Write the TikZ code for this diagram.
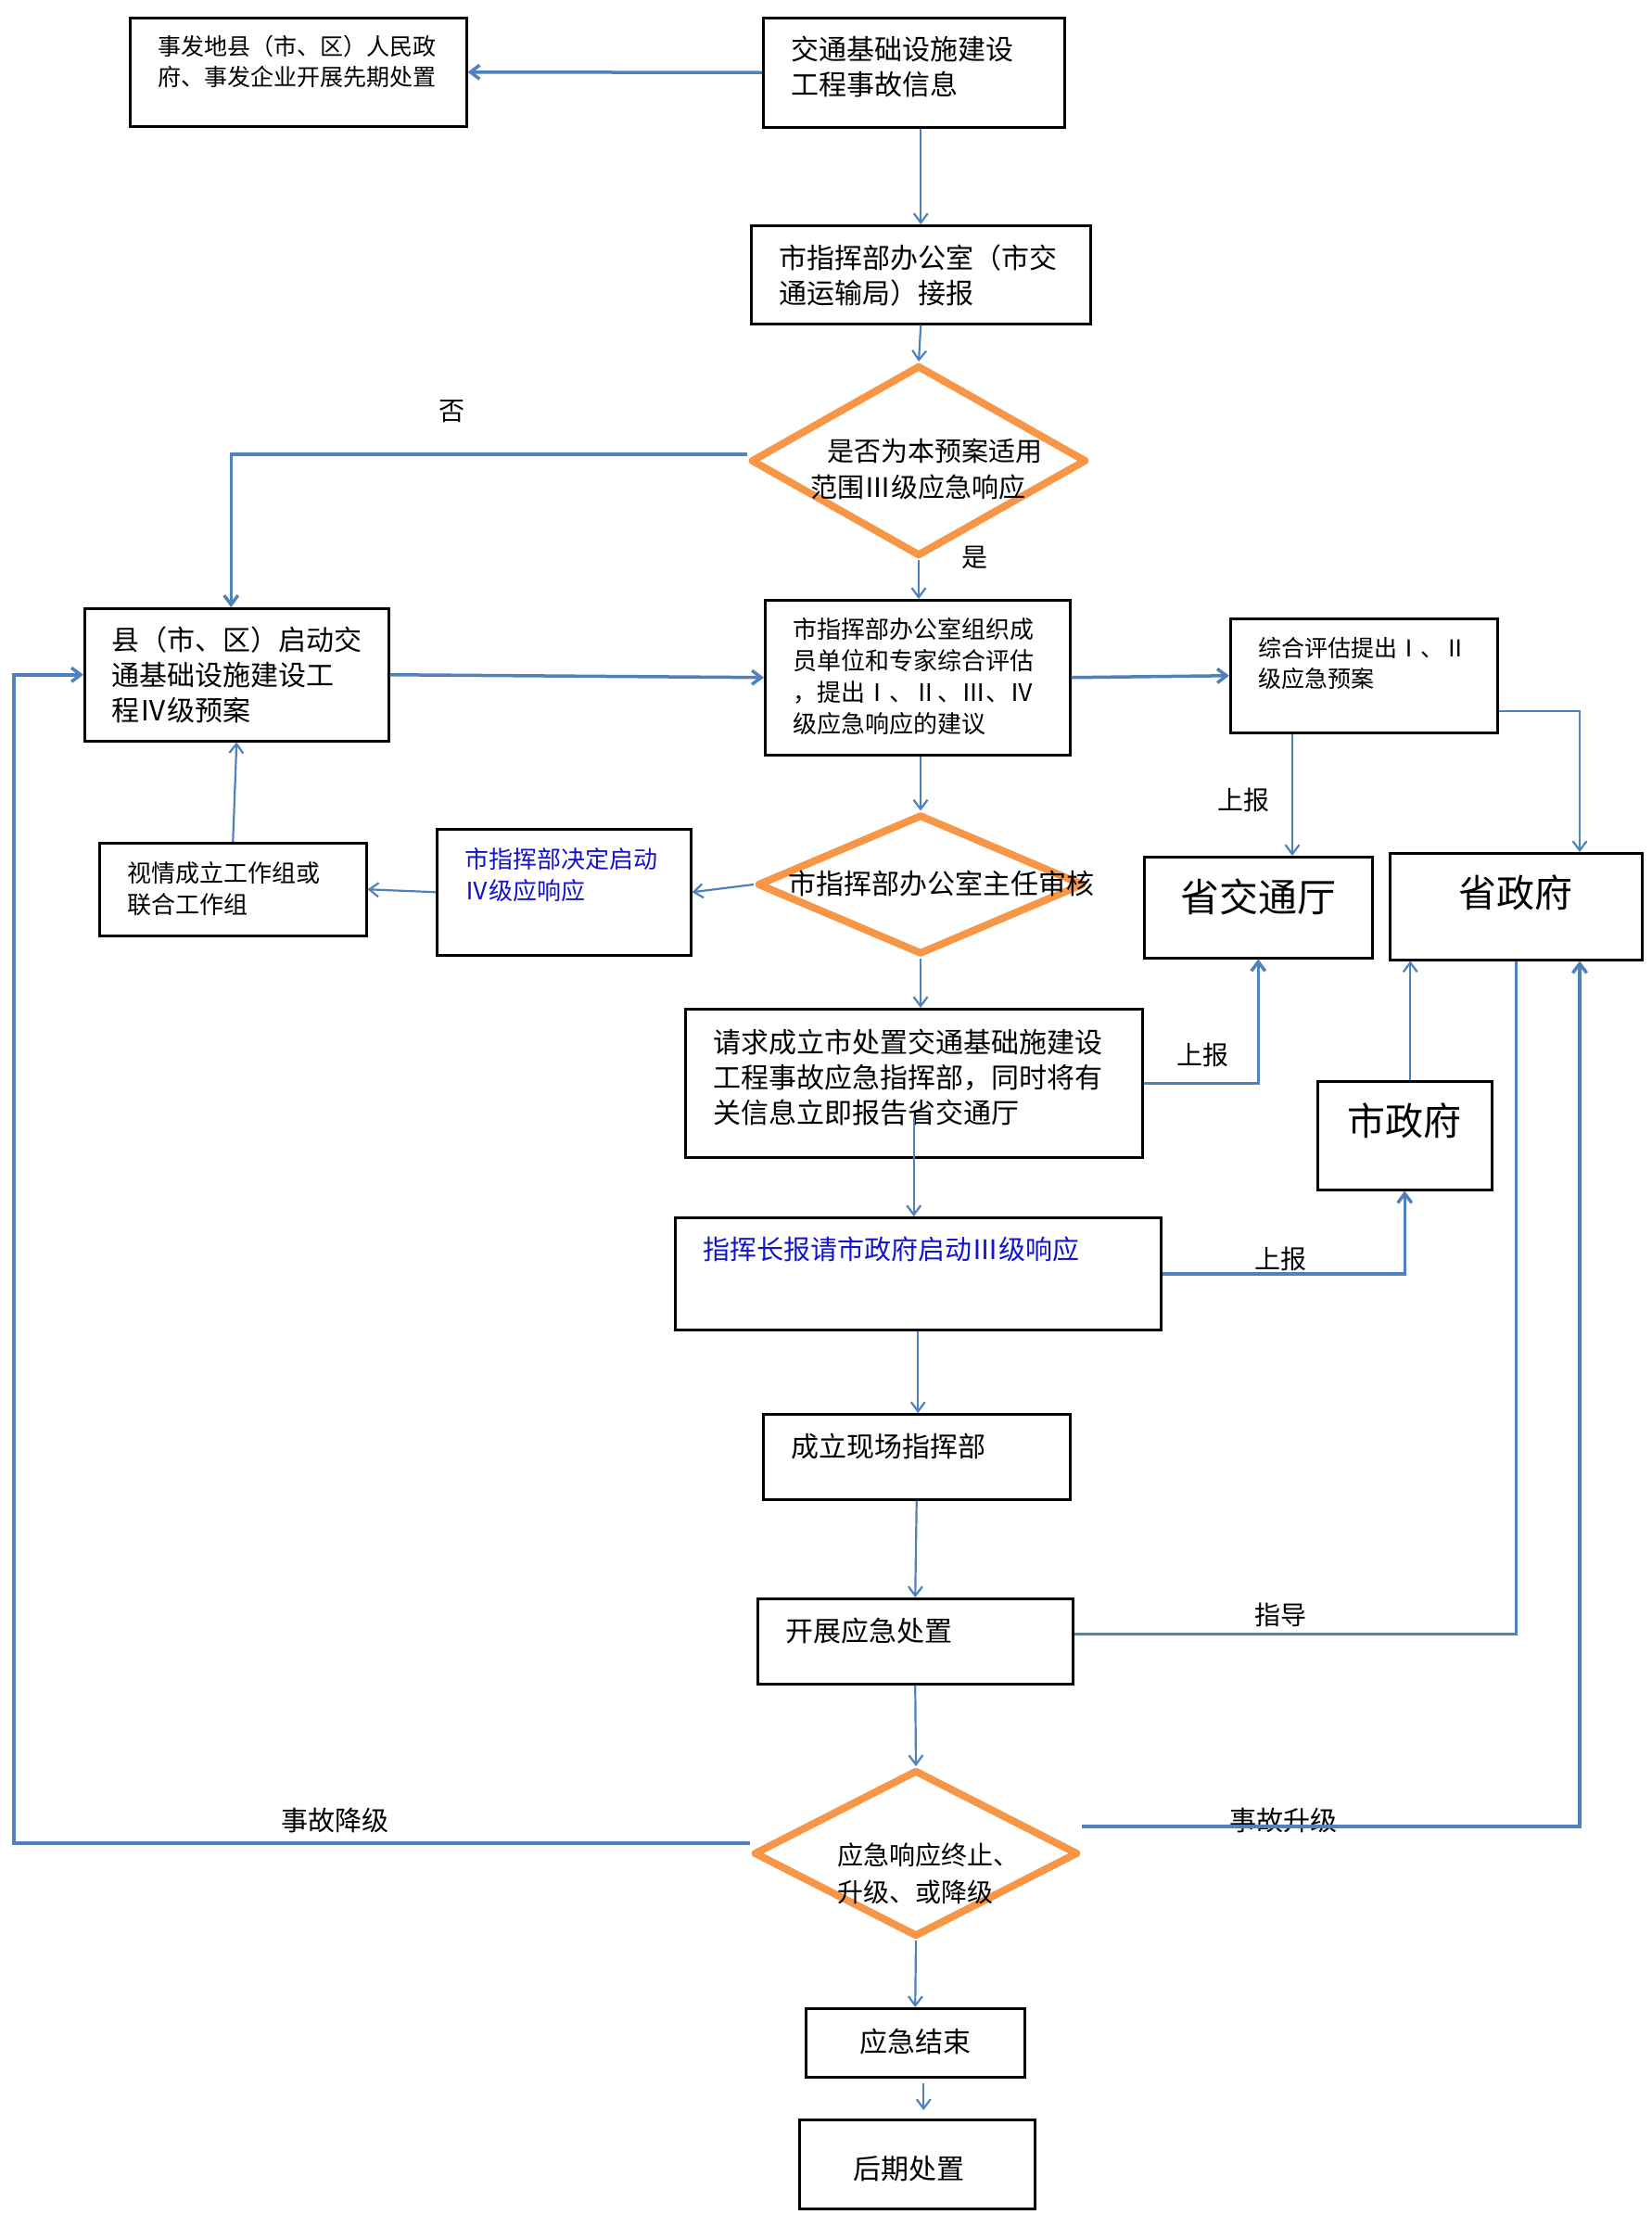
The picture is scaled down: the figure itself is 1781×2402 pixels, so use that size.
\documentclass[tikz,border=0pt]{standalone}
\usepackage{fontspec}
\setmainfont{Noto Sans CJK SC}
\usetikzlibrary{shapes.geometric}
\usetikzlibrary{arrows.meta}
\definecolor{linkblue}{HTML}{4F81BD}
\definecolor{checkorange}{HTML}{F79646}
\definecolor{noteblue}{HTML}{1414CC}

\begin{document}
\begin{tikzpicture}[
			x=1pt, y=-1pt,
			box/.style={draw, line width=2.5pt, anchor=north west, inner xsep=30pt, inner ysep=0pt, align=left},
			midbox/.style={box, inner xsep=10pt, align=center},
			check/.style={diamond, draw=checkorange, line width=8pt, line join=round, inner sep=0pt},
			link/.style={draw=linkblue, line width=2.2pt, -{Straight Barb[length=10pt,width=15pt]}},
			wire/.style={draw=linkblue, line width=2.2pt},
			wide/.style={line width=3.5pt},
			say/.style={inner sep=0pt},
			t25/.style={font=\fontsize{25}{33}\selectfont},
			t26/.style={font=\fontsize{26}{34}\selectfont},
			t28/.style={font=\fontsize{28}{40}\selectfont},
			t29/.style={font=\fontsize{29}{39}\selectfont},
			t30/.style={font=\fontsize{30}{38}\selectfont},
			t41/.style={font=\fontsize{41}{48}\selectfont},
			t42/.style={font=\fontsize{42}{48}\selectfont},
			]
			\useasboundingbox[fill=white] (0,0) rectangle (1781,2402);

			\node[box, t25, text width=303pt, text height=40.5pt, text depth=76.5pt] (a) at (139,18) {事发地县（市、区）人民政\\府、事发企业开展先期处置};
			\node[box, t30, text width=265pt, text height=45.4pt, text depth=72.6pt] (b) at (822,18) {交通基础设施建设\\工程事故信息};
			\node[box, t30, text width=306pt, text height=46.4pt, text depth=59.6pt] (c) at (809,242) {市指挥部办公室（市交\\通运输局）接报};
			\node[check, minimum width=362pt, minimum height=206pt] (d1) at (991,497) {};
			\node[say, t29, anchor=west, align=left] (d1t) at (874,505.5) {\hspace*{18pt}是否为本预案适用\\范围Ⅲ级应急响应};
			\node[box, t30, text width=270pt, text height=45.4pt, text depth=97.6pt, inner xsep=29pt] (e) at (90,655) {县（市、区）启动交\\通基础设施建设工\\程Ⅳ级预案};
			\node[box, t26, text width=269pt, text height=40.9pt, text depth=126.1pt] (f) at (824,646) {市指挥部办公室组织成\\员单位和专家综合评估\\，提出Ⅰ、Ⅱ、Ⅲ、Ⅳ\\级应急响应的建议};
			\node[box, t25, text width=228pt, text height=41.5pt, text depth=81.5pt] (g) at (1326,666) {综合评估提出Ⅰ、Ⅱ\\级应急预案};
			\node[check, minimum width=352pt, minimum height=151pt] (d2) at (993,954) {};
			\node[say, t30, anchor=west] (d2t) at (850,953) {市指挥部办公室主任审核};
			\node[box, t26, text width=214pt, text height=41.9pt, text depth=94.1pt, text=noteblue] (h) at (470,893) {市指挥部决定启动\\Ⅳ级应响应};
			\node[box, t26, text width=228pt, text height=41.9pt, text depth=58.1pt] (i) at (106,908) {视情成立工作组或\\联合工作组};
			\node[midbox, t42, text width=226pt, text height=59pt, text depth=50pt] (j) at (1233,923) {省交通厅};
			\node[midbox, t41, text width=252pt, text height=58.6pt, text depth=56.4pt] (k) at (1498,919) {省政府};
			\node[box, t30, text width=433pt, text height=46.9pt, text depth=113.1pt] (l) at (738,1087) {请求成立市处置交通基础施建设\\工程事故应急指挥部，同时将有\\关信息立即报告省交通厅};
			\node[midbox, t41, text width=168pt, text height=58.6pt, text depth=58.4pt] (m) at (1420,1165) {市政府};
			\node[box, t29, text width=464pt, text height=45pt, text depth=76pt, text=noteblue] (n) at (727,1312) {指挥长报请市政府启动Ⅲ级响应};
			\node[box, t30, text width=271pt, text height=46.4pt, text depth=45.6pt] (o) at (822,1524) {成立现场指挥部};
			\node[box, t30, text width=280pt, text height=46.4pt, text depth=45.6pt] (p) at (816,1723) {开展应急处置};
			\node[check, minimum width=350pt, minimum height=180pt] (d3) at (988,1999) {};
			\node[say, t28, anchor=west, align=left] (d3t) at (903,2021) {应急响应终止、\\升级、或降级};
			\node[midbox, t30, text width=216pt, text height=47.4pt, text depth=26.6pt] (q) at (868,2165) {应急结束};
			\node[box, t30, text width=138pt, text height=64.4pt, text depth=31.6pt, inner xsep=58pt] (r) at (861,2285) {后期处置};

			\node[say, t28] (no) at (487,444) {否};
			\node[say, t28] (yes) at (1051,601) {是};
			\node[say, t28] (up1) at (1341,863) {上报};
			\node[say, t28] (up2) at (1297,1138) {上报};
			\node[say, t28] (up3) at (1381,1358) {上报};
			\node[say, t28] (guide) at (1381,1742) {指导};
			\node[say, t29] (down) at (361,1963) {事故降级};
			\node[say, t29] (rise) at (1384,1963) {事故升级};

			\coordinate (xl) at (15,1988);
			\coordinate (xg) at (1394,789);
			\coordinate (xr) at (1704,764);

			\draw[link, wide] (b.west) -- (a.east);
			\draw[link] (c.north |- b.south) -- (c.north);
			\draw[link] (c.south) -- (d1.north);
			\draw[link] (d1.south) -- (d1.south |- f.north);
			\draw[link, wide] ([yshift=7pt]d1.west) -| ([xshift=-6pt]e.north);
			\draw[link, wide] (e.east) -- (f.west);
			\draw[link, wide] (f.east) -- (g.west);
			\draw[link] (d2.north |- f.south) -- (d2.north);
			\draw[link] (d2.west) -- (h.east);
			\draw[link] (h.west) -- (i.east);
			\draw[link] (i.north) -- (e.south);
			\draw[link] (g.south -| xg) -- (j.north -| xg);
			\draw[link] ([yshift=-38pt]g.east) -| (k.north -| xr);
			\draw[link] (d2.south) -- (d2.south |- l.north);
			\draw[link, wide] (l.east) -| (j.south);
			\draw[link] ([yshift=45pt]l.south) -- (l.south |- n.north);
			\draw[link] ([xshift=6pt]m.north) -- ([xshift=6pt]m.north |- k.south);
			\draw[link, wide] (n.east) -| (m.south);
			\draw[link] (n.south) -- (n.south |- o.north);
			\draw[link] (o.south) -- (p.north);
			\draw[wire, wide] (k.south) |- ([yshift=8pt]p.east);
			\draw[link] (p.south) -- (d3.north);
			\draw[link, wide] ([yshift=11pt]d3.west) -- (xl) |- (e.west);
			\draw[link, wide] ([yshift=29pt]d3.east) -| (k.south -| xr);
			\draw[link] (d3.south) -- (q.north);
			\draw[link] ([xshift=9pt,yshift=-5pt]q.south) -- ([xshift=7pt,yshift=9pt]r.north);
		\end{tikzpicture}
\end{document}
